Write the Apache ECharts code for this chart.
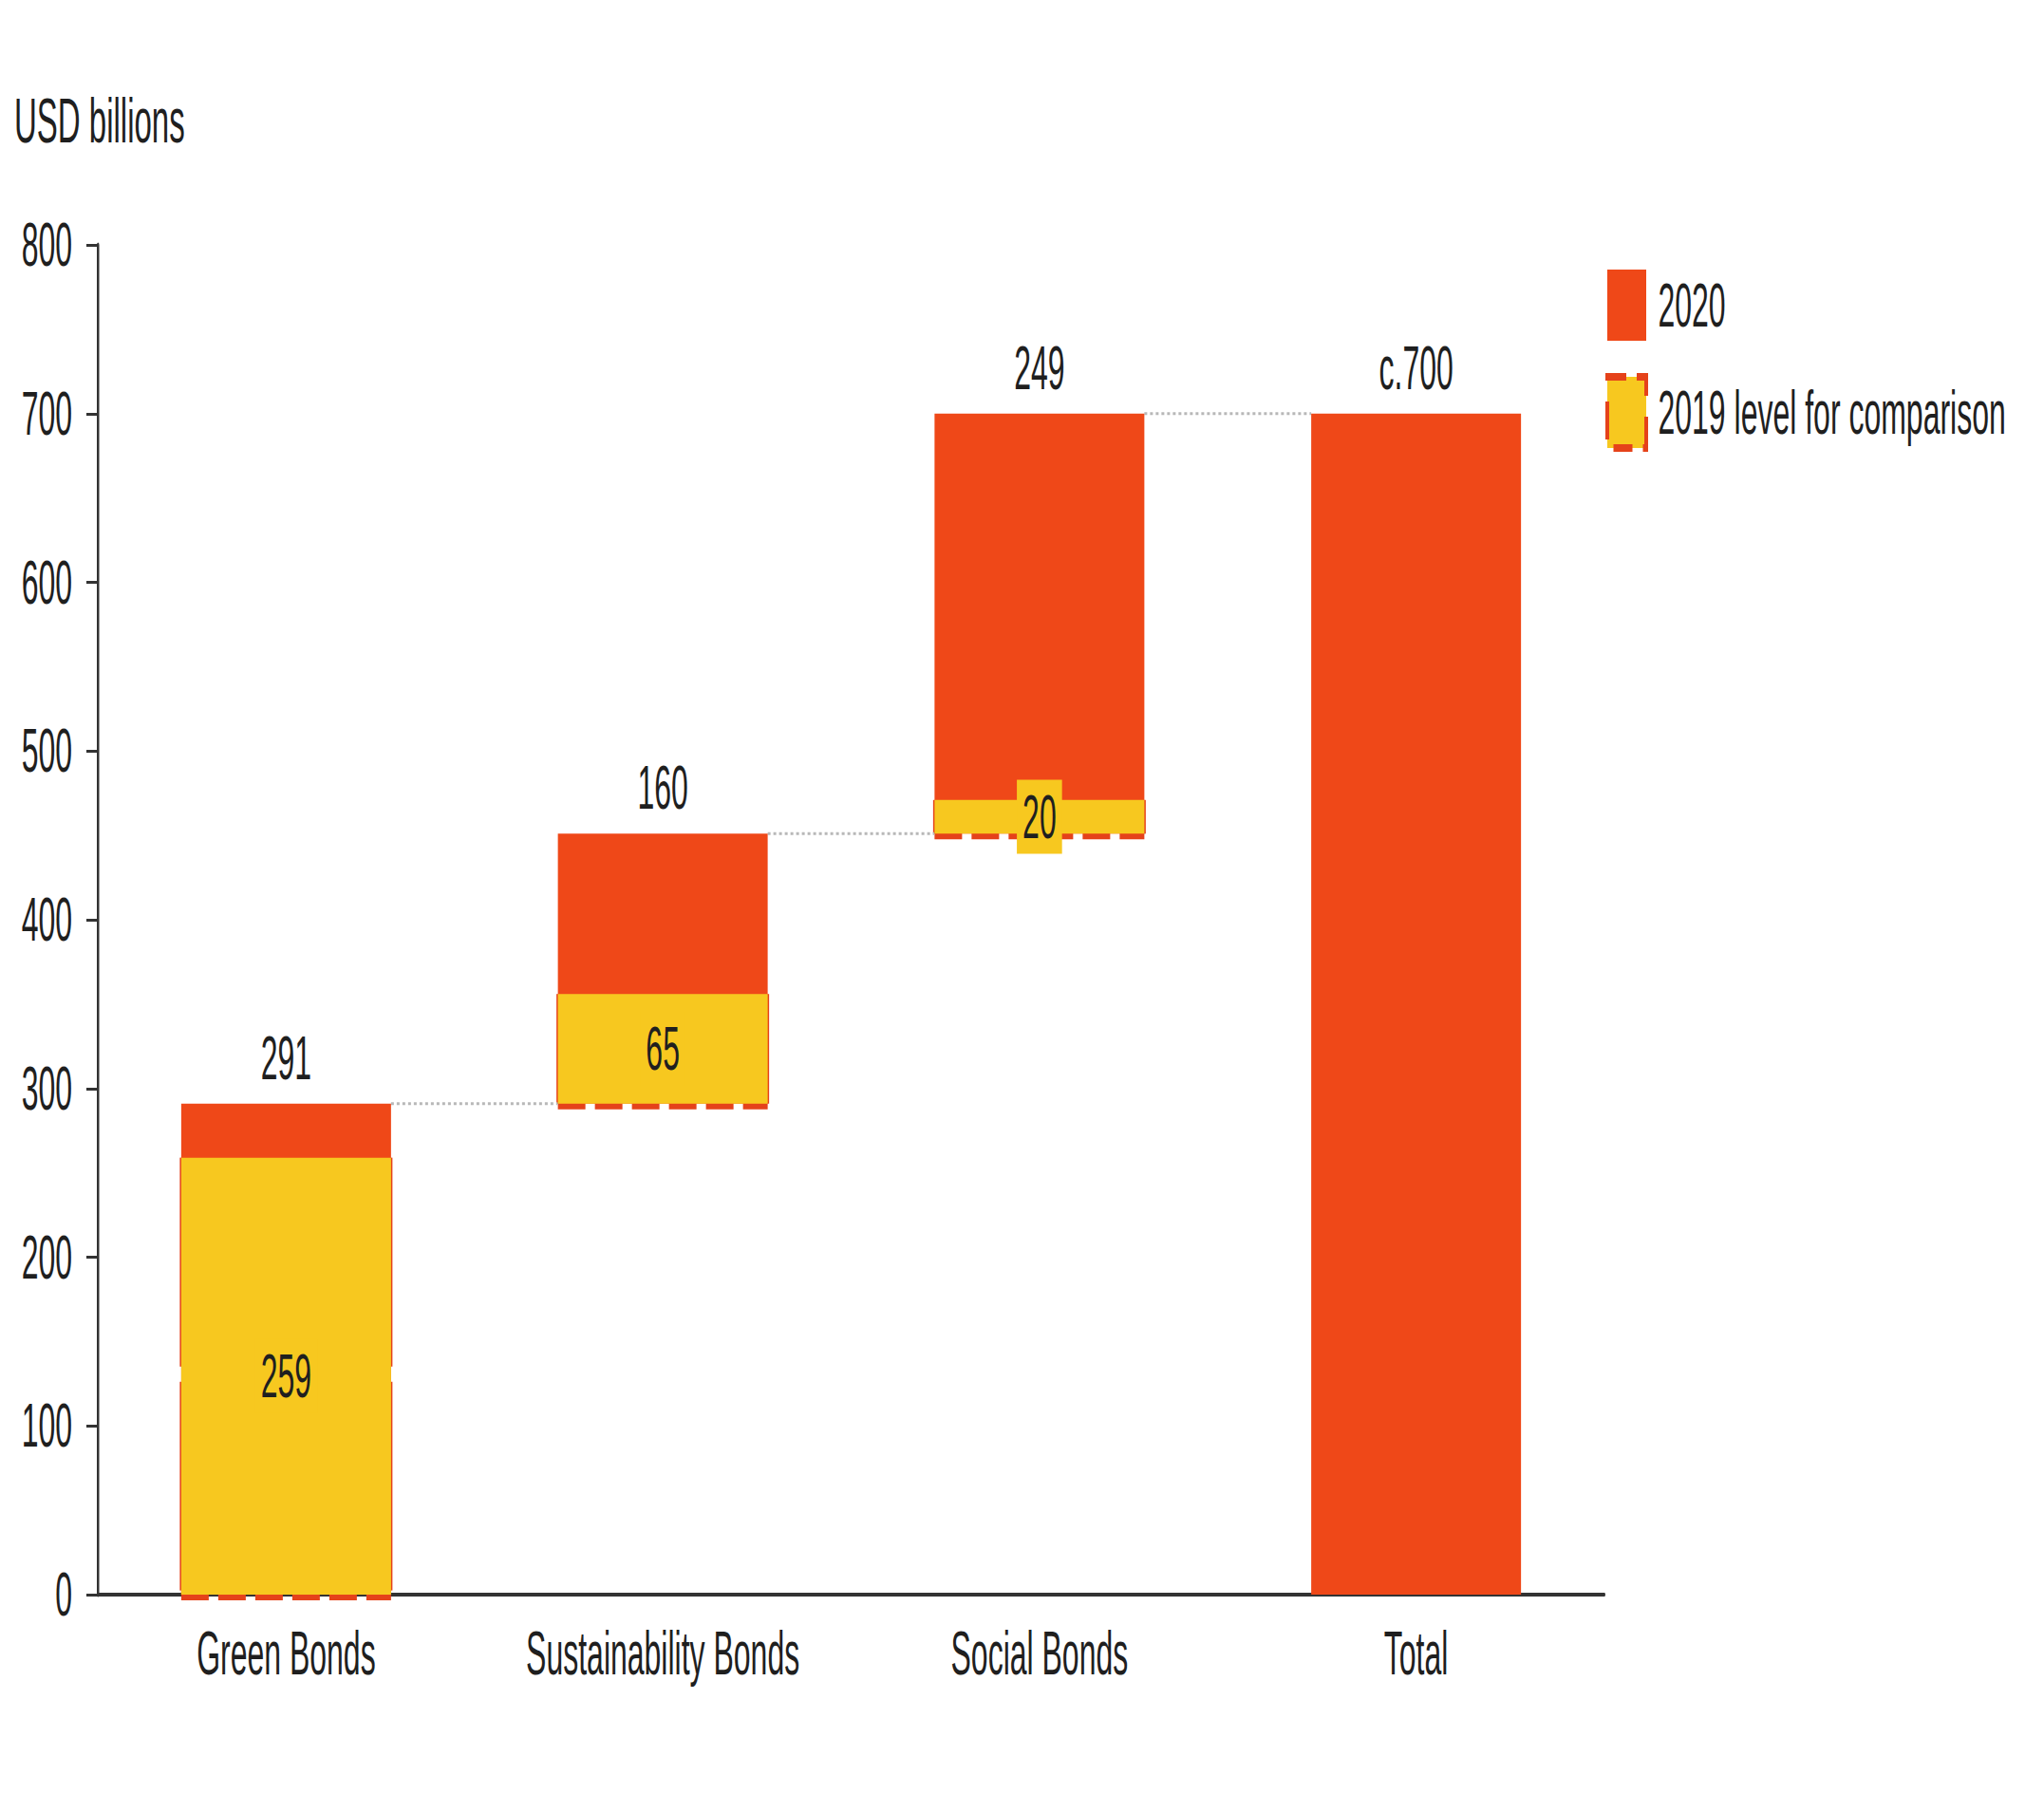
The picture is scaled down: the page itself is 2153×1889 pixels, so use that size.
<!DOCTYPE html>
<html>
<head>
<meta charset="utf-8">
<script src="https://cdn.jsdelivr.net/npm/echarts@6/dist/echarts.min.js"></script>
<style>
  html, body { margin: 0; padding: 0; background: #ffffff; }
  #frame { width: 2153px; height: 1889px; overflow: hidden; position: relative; background: #ffffff; }
  /* The chart is laid out at double width and squeezed back horizontally,
     which gives the tall, condensed lettering of the original graphic. */
  #chart { width: 4306px; height: 1889px; transform: scaleX(0.5); transform-origin: 0 0; }
</style>
</head>
<body>
<div id="frame"><div id="chart"></div></div>
<script>
// Sustainable bond issuance, USD billions
const categories = ['Green Bonds', 'Sustainability Bonds', 'Social Bonds', 'Total'];
const values2020 = [291, 160, 249, 700];
const values2019 = [259, 65, 20, null];
const topLabels = ['291', '160', '249', 'c.700'];
const isTotal = [false, false, false, true];
const yTickMin = 0;
const yTickMax = 800;
const yTickStep = 100;

const RED = '#EF4818';
const RED_EDGE = '#E5421A';
const YELLOW = '#F7C81F';
const TEXT = '#1f1f1f';
const FONT = "'Liberation Sans', Arial, sans-serif";
const BAR_W = 442;   // layout units (squeezed to half on screen)

// Each non-total bar starts where the previous one ended
const bases = [];
let running = 0;
values2020.forEach((v, i) => {
  if (isTotal[i]) { bases.push(0); }
  else { bases.push(running); running += v; }
});
const bases2019 = bases.map((b, i) => values2019[i] == null ? null : b);

// Dotted connectors from the top of one step to the next bar
const connectors = [];
for (let i = 0; i < values2020.length - 1; i++) {
  connectors.push([i, bases[i] + values2020[i]]);
}

// Dashed outline (sides and bottom) around each 2019 block
const outlines = [];
values2019.forEach((v, i) => {
  if (v != null) outlines.push([i, bases[i], bases[i] + v]);
});

const chart = echarts.init(document.getElementById('chart'), null, { renderer: 'svg' });

chart.setOption({
  animation: false,
  backgroundColor: '#ffffff',
  textStyle: { fontFamily: FONT },
  title: {
    text: 'USD billions',
    left: 30,
    top: 94,
    padding: 0,
    textStyle: { fontFamily: FONT, fontSize: 66, fontWeight: 'normal', color: TEXT }
  },
  legend: {
    orient: 'vertical',
    left: 3382,
    top: 284,
    padding: 0,
    itemWidth: 82,
    itemHeight: 75,
    itemGap: 34,
    icon: 'rect',
    data: [
      { name: '2020' },
      {
        name: '2019 level for comparison',
        itemStyle: { color: YELLOW, borderColor: RED_EDGE, borderWidth: 8, borderType: [40, 22] }
      }
    ],
    textStyle: { fontFamily: FONT, fontSize: 64, color: TEXT, padding: [0, 0, 0, 20] }
  },
  grid: { left: 206, right: 926, top: 258, bottom: 209, containLabel: false },
  xAxis: {
    type: 'category',
    data: categories,
    axisTick: { show: false },
    axisLine: { show: true, lineStyle: { color: '#333333', width: 4 } },
    axisLabel: { margin: 30, fontFamily: FONT, fontSize: 64, color: TEXT }
  },
  yAxis: {
    type: 'value',
    min: yTickMin,
    max: yTickMax,
    interval: yTickStep,
    splitLine: { show: false },
    axisLine: { show: true, lineStyle: { color: '#333333', width: 5 } },
    axisTick: { show: true, length: 24, lineStyle: { color: '#333333', width: 3 } },
    axisLabel: { margin: 54, fontFamily: FONT, fontSize: 64, color: TEXT }
  },
  series: [
    {
      name: 'base2020', type: 'bar', stack: 'a', barWidth: BAR_W, barGap: '-100%',
      data: bases, itemStyle: { color: 'transparent' }, silent: true
    },
    {
      name: '2020', type: 'bar', stack: 'a', barWidth: BAR_W, barGap: '-100%',
      data: values2020,
      itemStyle: { color: RED },
      label: {
        show: true, position: 'top', distance: 16,
        formatter: p => topLabels[p.dataIndex],
        fontFamily: FONT, fontSize: 64, color: TEXT
      }
    },
    {
      name: 'base2019', type: 'bar', stack: 'b', barWidth: BAR_W, barGap: '-100%',
      data: bases2019, itemStyle: { color: 'transparent' }, silent: true
    },
    {
      name: '2019 level for comparison', type: 'bar', stack: 'b', barWidth: BAR_W, barGap: '-100%',
      data: values2019,
      itemStyle: { color: YELLOW },
      label: {
        show: true, position: 'inside',
        fontFamily: FONT, fontSize: 64, color: TEXT,
        backgroundColor: YELLOW, padding: [7, 12]
      }
    },
    {
      name: 'outline2019', type: 'custom', silent: true, z: 1,
      data: outlines,
      encode: { x: 0, y: [1, 2] },
      renderItem: function (params, api) {
        const i = api.value(0);
        const pBot = api.coord([i, api.value(1)]);
        const pTop = api.coord([i, api.value(2)]);
        const xl = pBot[0] - BAR_W / 2;
        const xr = pBot[0] + BAR_W / 2;
        const side = { stroke: RED_EDGE, lineWidth: 6, lineDash: [220, 16] };
        const bottom = { stroke: RED_EDGE, lineWidth: 12, lineDash: [58, 20] };
        return {
          type: 'group',
          children: [
            { type: 'line', shape: { x1: xl, y1: pTop[1], x2: xl, y2: pBot[1] }, style: side },
            { type: 'line', shape: { x1: xr, y1: pTop[1], x2: xr, y2: pBot[1] }, style: side },
            { type: 'line', shape: { x1: xl, y1: pBot[1], x2: xr, y2: pBot[1] }, style: bottom }
          ]
        };
      }
    },
    {
      name: 'connectors', type: 'custom', silent: true, z: 1,
      data: connectors,
      encode: { x: 0, y: 1 },
      renderItem: function (params, api) {
        const i = api.value(0);
        const v = api.value(1);
        const p0 = api.coord([i, v]);
        const p1 = api.coord([i + 1, v]);
        return {
          type: 'line',
          shape: { x1: p0[0] + BAR_W / 2, y1: p0[1], x2: p1[0] - BAR_W / 2, y2: p1[1] },
          style: { stroke: '#b8b8b8', lineWidth: 3, lineDash: [6, 6] }
        };
      }
    }
  ]
});
</script>
</body>
</html>
